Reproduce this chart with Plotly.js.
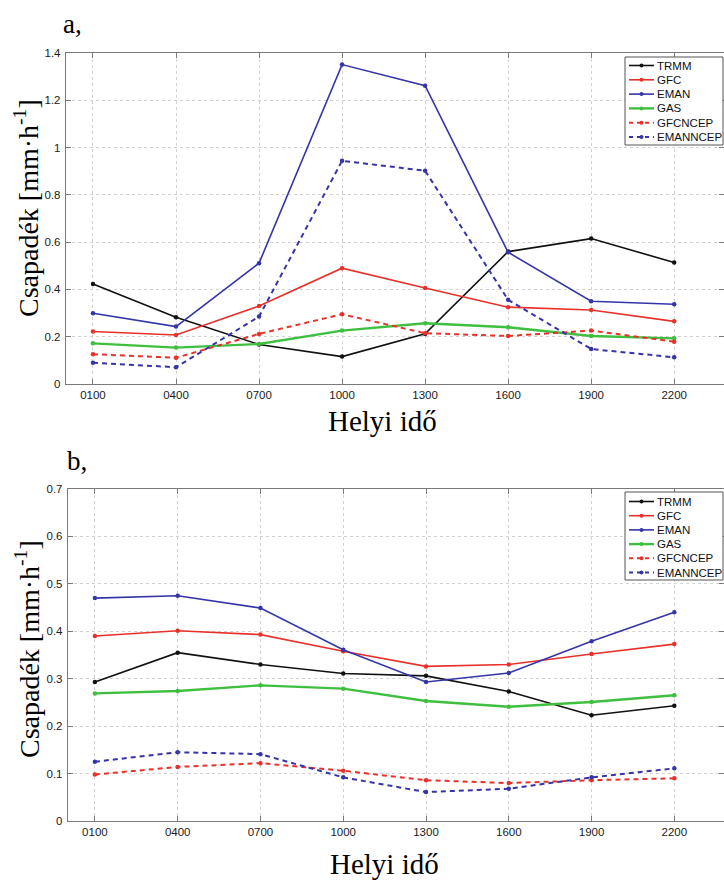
<!DOCTYPE html>
<html>
<head>
<meta charset="utf-8">
<script src="https://cdn.plot.ly/plotly-3.0.1.min.js"></script>
<style>html,body{margin:0;padding:0;background:#fff;}#chart{width:724px;height:881px;}</style>
</head>
<body>
<div id="chart"></div>
<script>
const times = ["0100","0400","0700","1000","1300","1600","1900","2200"];
const seriesNames = ["TRMM","GFC","EMAN","GAS","GFCNCEP","EMANNCEP"];

// Panel a
const a_TRMM     = [0.423,0.282,0.167,0.116,0.212,0.560,0.615,0.514];
const a_GFC      = [0.222,0.207,0.330,0.490,0.406,0.325,0.313,0.265];
const a_EMAN     = [0.299,0.243,0.511,1.351,1.262,0.557,0.350,0.337];
const a_GAS      = [0.172,0.154,0.169,0.226,0.257,0.240,0.203,0.193];
const a_GFCNCEP  = [0.126,0.111,0.212,0.295,0.215,0.203,0.226,0.179];
const a_EMANNCEP = [0.090,0.071,0.285,0.944,0.902,0.356,0.148,0.113];

// Panel b
const b_TRMM     = [0.293,0.355,0.330,0.311,0.306,0.273,0.223,0.243];
const b_GFC      = [0.390,0.401,0.393,0.358,0.326,0.330,0.352,0.373];
const b_EMAN     = [0.470,0.475,0.449,0.361,0.293,0.312,0.379,0.440];
const b_GAS      = [0.269,0.274,0.286,0.279,0.253,0.241,0.251,0.265];
const b_GFCNCEP  = [0.098,0.114,0.122,0.106,0.086,0.080,0.086,0.090];
const b_EMANNCEP = [0.125,0.145,0.141,0.092,0.061,0.068,0.092,0.111];

const yTicksA = [0,0.2,0.4,0.6,0.8,1,1.2,1.4];
const yTickTextA = ["0","0.2","0.4","0.6","0.8","1","1.2","1.4"];
const yTicksB = [0,0.1,0.2,0.3,0.4,0.5,0.6,0.7];
const yTickTextB = ["0","0.1","0.2","0.3","0.4","0.5","0.6","0.7"];

const styles = [
  {color:"#111111", width:1.6, dash:"solid"},
  {color:"#e8312a", width:1.6, dash:"solid"},
  {color:"#3535a8", width:1.6, dash:"solid"},
  {color:"#3fbf3f", width:2.4, dash:"solid"},
  {color:"#e8312a", width:2.0, dash:"5px,4px"},
  {color:"#3535a8", width:2.0, dash:"5px,4px"}
];

const dataA = [a_TRMM,a_GFC,a_EMAN,a_GAS,a_GFCNCEP,a_EMANNCEP];
const dataB = [b_TRMM,b_GFC,b_EMAN,b_GAS,b_GFCNCEP,b_EMANNCEP];

const traces = [];
function addPanel(arr, xa, ya){
  arr.forEach((vals,i)=>{
    const s = styles[i];
    traces.push({
      x: times, y: vals, xaxis: xa, yaxis: ya,
      name: seriesNames[i], type: "scatter", mode: "lines+markers",
      line: {color: s.color, width: s.width, dash: s.dash},
      marker: {color: s.color, size: 4.5, symbol: "circle"},
      showlegend: false
    });
  });
}
addPanel(dataA, "x", "y");
addPanel(dataB, "x2", "y2");

const W = 724, H = 881;
const px = v => v / W;
const py = v => 1 - v / H;

const tickFont = {family: "Liberation Sans, Arial, sans-serif", size: 11.5, color: "#1a1a1a"};
function xAxis(domain, anchor){
  return {
    domain: domain, anchor: anchor, type: "category",
    categoryorder: "array", categoryarray: times,
    range: [-0.325, 7.6], tickfont: tickFont,
    showgrid: true, gridcolor: "#d2d2d2", griddash: "dot", gridwidth: 1,
    showline: true, linecolor: "#7a7a7a", linewidth: 1.2, mirror: "ticks",
    ticks: "inside", ticklen: 5, tickcolor: "#7a7a7a", zeroline: false,
    fixedrange: true
  };
}
function yAxis(domain, anchor, rng, tv, tt){
  return {
    domain: domain, anchor: anchor, range: rng,
    tickmode: "array", tickvals: tv, ticktext: tt, tickfont: tickFont,
    showgrid: true, gridcolor: "#d2d2d2", griddash: "dot", gridwidth: 1,
    showline: true, linecolor: "#7a7a7a", linewidth: 1.2, mirror: "ticks",
    ticks: "inside", ticklen: 5, tickcolor: "#7a7a7a", zeroline: false,
    ticklabelstandoff: 2, fixedrange: true
  };
}

const serif = "Liberation Serif, Times New Roman, serif";
const shapes = [];
const annotations = [];

// compact MATLAB-style legend box (built from series names and styles)
function addLegend(left, top, right, bottom, firstRow, rowStep){
  shapes.push({type: "rect", xref: "paper", yref: "paper",
    x0: px(left), x1: px(right), y0: py(bottom), y1: py(top),
    line: {color: "#555555", width: 1}, fillcolor: "#ffffff", layer: "above"});
  seriesNames.forEach((nm, i) => {
    const s = styles[i];
    const yy = firstRow + i * rowStep;
    shapes.push({type: "line", xref: "paper", yref: "paper",
      x0: px(left + 4), x1: px(left + 29), y0: py(yy), y1: py(yy),
      line: {color: s.color, width: s.width, dash: s.dash === "solid" ? "solid" : "4px,4px"},
      layer: "above"});
    shapes.push({type: "circle", xref: "paper", yref: "paper",
      x0: px(left + 14.5), x1: px(left + 18.5), y0: py(yy + 2), y1: py(yy - 2),
      line: {color: s.color, width: 0}, fillcolor: s.color, layer: "above"});
    annotations.push({text: nm, xref: "paper", yref: "paper",
      x: px(left + 30), y: py(yy), xanchor: "left", yanchor: "middle", showarrow: false,
      font: {family: "Liberation Sans, Arial, sans-serif", size: 11.5, color: "#111"}});
  });
}
addLegend(625, 57, 723, 145, 65.5, 14.3);
addLegend(625, 492, 723, 580, 501.5, 14.2);

annotations.push(
  {text: "a,", x: px(72), y: py(24), xref: "paper", yref: "paper", showarrow: false,
   font: {family: serif, size: 27, color: "#000"}, xanchor: "center", yanchor: "middle"},
  {text: "b,", x: px(77), y: py(461), xref: "paper", yref: "paper", showarrow: false,
   font: {family: serif, size: 27, color: "#000"}, xanchor: "center", yanchor: "middle"},
  {text: "Csapadék [mm·h<sup>-1</sup>]", x: px(26), y: py(208), xref: "paper", yref: "paper",
   showarrow: false, textangle: -90, font: {family: serif, size: 28, color: "#000"},
   xanchor: "center", yanchor: "middle"},
  {text: "Csapadék [mm·h<sup>-1</sup>]", x: px(27), y: py(649), xref: "paper", yref: "paper",
   showarrow: false, textangle: -90, font: {family: serif, size: 28, color: "#000"},
   xanchor: "center", yanchor: "middle"},
  {text: "Helyi idő", x: px(382), y: py(421), xref: "paper", yref: "paper", showarrow: false,
   font: {family: serif, size: 29, color: "#000"}, xanchor: "center", yanchor: "middle"},
  {text: "Helyi idő", x: px(384), y: py(864), xref: "paper", yref: "paper", showarrow: false,
   font: {family: serif, size: 29, color: "#000"}, xanchor: "center", yanchor: "middle"}
);

const layout = {
  width: W, height: H,
  margin: {l: 0, r: 0, t: 0, b: 0},
  paper_bgcolor: "#ffffff", plot_bgcolor: "#ffffff",
  showlegend: false,
  xaxis: xAxis([px(66), 1], "y"),
  yaxis: yAxis([py(384), py(53)], "x", [0, 1.4], yTicksA, yTickTextA),
  xaxis2: xAxis([px(68), 1], "y2"),
  yaxis2: yAxis([py(821), py(489)], "x2", [0, 0.7], yTicksB, yTickTextB),
  shapes: shapes,
  annotations: annotations
};

Plotly.newPlot("chart", traces, layout, {displayModeBar: false, staticPlot: true});
</script>
</body>
</html>
